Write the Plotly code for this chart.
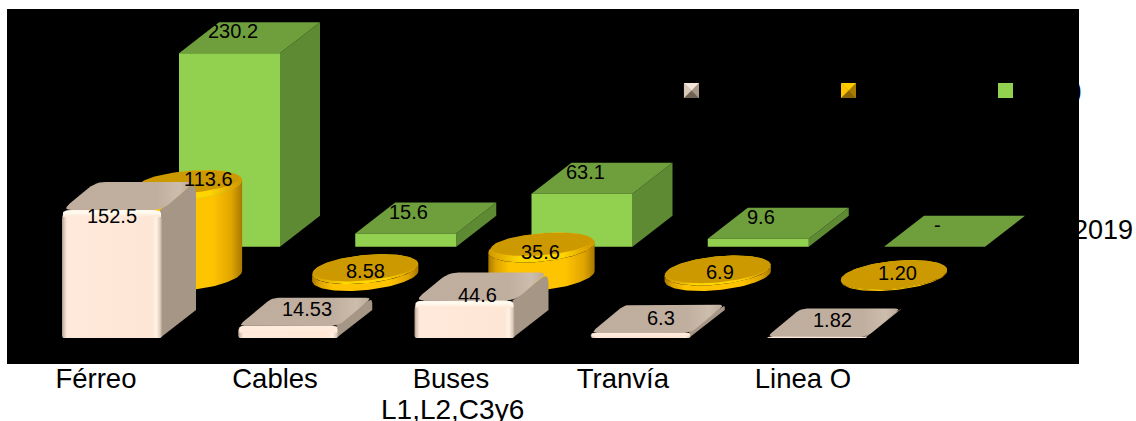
import numpy as np
import plotly.graph_objects as go

categories = ["Férreo", "Cables", "Buses", "Tranvía", "Linea O"]
beige_values = [152.5, 14.53, 44.6, 6.3, 1.82]
gold_values = [113.6, 8.58, 35.6, 6.9, 1.20]
green_values = [230.2, 15.6, 63.1, 9.6, 0]
beige_labels = ["152.5", "14.53", "44.6", "6.3", "1.82"]
gold_labels = ["113.6", "8.58", "35.6", "6.9", "1.20"]
green_labels = ["230.2", "15.6", "63.1", "9.6", "-"]

# scale of the axes (pixels per unit)
PX_CAT, PX_VAL = 176.25, 0.84
L, R, T, B = 7, 1079, 9, 364      # plot rectangle in the page
W0, BASE0 = 112, 338              # where category 0 / value 0 sit

# row geometry, in pixels relative to the front row
GREEN_DX, GREEN_BASE = 117.5, 91.3
GOLD_DX, GOLD_BASE = 77, 62
WIDTH = 101
GOLD_SCALE = 0.8 / PX_VAL

# label nudges (pixels)
beige_shift = [(0, 6), (19, -17), (13, -5.5), (20, -15), (15, -16.5)]
gold_shift = [(19, -6), (0, 2), (-1, 4.5), (2, 2), (3, -2)]
green_shift = [(3, -22)] * 5
tick_nudge = [-0.091, -0.075, -0.077, -0.101, -0.08]

fig = go.Figure()


def cx(px):
    return px / PX_CAT


def vy(px):
    return px / PX_VAL


def poly(xs, ys, color=None, grad=None, gtype="horizontal"):
    kw = dict(x=list(xs), y=list(ys), mode="lines", fill="toself",
              line=dict(width=0), hoverinfo="skip", showlegend=False)
    if grad:
        kw["fillgradient"] = dict(type=gtype, colorscale=grad)
        kw["fillcolor"] = None
    else:
        kw["fillcolor"] = color
    fig.add_trace(go.Scatter(**kw))


def rounded(pts, radii):
    """Replace polygon corners by small quadratic arcs (radii in pixels)."""
    P = [np.array([x * PX_CAT, y * PX_VAL]) for x, y in pts]
    out = []
    n = len(P)
    for k in range(n):
        p, a, b = P[k], P[k - 1], P[(k + 1) % n]
        r = radii[k]
        if r <= 0:
            out.append(p)
            continue
        la, lb = np.linalg.norm(a - p), np.linalg.norm(b - p)
        ra = min(r, la * 0.45)
        rb = min(r, lb * 0.45)
        s, e = p + (a - p) / max(la, 1e-6) * ra, p + (b - p) / max(lb, 1e-6) * rb
        for t in np.linspace(0, 1, 7):
            out.append((1 - t) ** 2 * s + 2 * t * (1 - t) * p + t ** 2 * e)
    return [q[0] / PX_CAT for q in out], [q[1] / PX_VAL for q in out]


def green_box(i, v):
    x0 = i + cx(GREEN_DX) - cx(WIDTH / 2)
    w, dx, dy = cx(WIDTH), cx(40), vy(31)
    b = vy(GREEN_BASE)
    t = b + v
    poly([x0 + w, x0 + w + dx, x0 + w + dx, x0 + w], [b, b + dy, t + dy, t], "#5F8A34")
    poly([x0, x0 + w, x0 + w + dx, x0 + dx], [t, t, t + dy, t + dy], "#6F9E3D")
    if v > 0:
        poly([x0, x0 + w, x0 + w, x0], [b, b, t, t], "#92D050")


def gold_cyl(i, v):
    c = i + cx(GOLD_DX)
    b = vy(GOLD_BASE)
    h = v * GOLD_SCALE
    tr = np.arctan2(18, 50)

    def ell(ts, y0, sx=1.0, sy=1.0):
        return (c + cx(sx * (50 * np.cos(ts) + 18 * np.sin(ts))),
                y0 + vy((1 - sy) * 15) + vy(sy * 15) * np.sin(ts))

    arc = np.linspace(tr, tr - np.pi, 60)
    bx, by = ell(arc, b)
    tx, ty = ell(arc[::-1], b + h)
    side = [[0, "#A87800"], [0.07, "#DDA400"], [0.2, "#FFC400"], [0.72, "#FFC400"],
            [0.9, "#E0A500"], [1, "#A87800"]]
    poly(np.r_[bx, tx], np.r_[by, ty], grad=side)
    full = np.linspace(0, 2 * np.pi, 120)
    t_px = min(6.5, h * PX_VAL * 0.4)
    rx, ry = ell(full, b + h)
    rim = [[0, "#CC9900"], [0.08, "#E0A800"], [0.3, "#FFD800"], [0.7, "#FFD400"],
           [0.92, "#DDA400"], [1, "#CC9900"]]
    poly(rx, ry, grad=rim)
    ix, iy = ell(full, b + h, 1 - t_px / 120, 1 - t_px / 30)
    poly(ix, iy, "#CC9900")


def beige_box(i, v):
    x0 = i - cx(WIDTH / 2) + cx(0.5)
    w, dx, dy = cx(100), cx(34), vy(28)
    h_px = v * PX_VAL
    t = v
    r = 10.0 if h_px > 25 else 6.0
    # side
    sx, sy = rounded([(x0 + w - cx(2), 0), (x0 + w + dx, dy), (x0 + w + dx, t + dy), (x0 + w - cx(2), t)],
                     [0, 0, r, 0])
    poly(sx, sy, "#A69686")
    # top
    tx, ty = rounded([(x0, t), (x0 + w, t), (x0 + w + dx, t + dy), (x0 + dx, t + dy)],
                     [r, r, r, r])
    top = [[0, "#BFAD9D"], [0.72, "#C0AE9E"], [0.9, "#CDBDAD"], [1, "#BBAA9A"]]
    poly(tx, ty, grad=top)
    # front
    if h_px >= 1:
        fx, fy = rounded([(x0, 0), (x0 + w, 0), (x0 + w, t), (x0, t)], [2, 2, r, r])
        front = [[0, "#A89888"], [0.02, "#D9C6B6"], [0.05, "#FFE9DA"], [0.9, "#FEE6D5"],
                 [0.945, "#FFF2E4"], [0.98, "#E0CDBD"], [1, "#B0A090"]]
        poly(fx, fy, grad=front)
        # top bevel of the front face
        band = min(7.0, h_px * 0.7)
        c_top = "#FFF9EE" if h_px > 25 else "#FFEBDC"
        bx, by = rounded([(x0 + cx(1), t - vy(band)), (x0 + w - cx(1), t - vy(band)),
                          (x0 + w - cx(1), t), (x0 + cx(1), t)], [0, 0, r, r])
        poly(bx, by, grad=[[0, "#FEE6D5"], [0.55, c_top], [1, c_top]], gtype="vertical")


for i, v in enumerate(green_values):
    green_box(i, v)
for i, v in enumerate(gold_values):
    gold_cyl(i, v)
for i, v in enumerate(beige_values):
    beige_box(i, v)


def label(x, y, text, shift):
    fig.add_annotation(x=x, y=y, text=text, showarrow=False, xref="x", yref="y",
                       xanchor="center", yanchor="middle",
                       xshift=shift[0], yshift=-shift[1],
                       font=dict(family="Liberation Sans", size=20, color="#000000"))


for i in range(5):
    label(i + cx(GREEN_DX), vy(GREEN_BASE) + green_values[i], green_labels[i], green_shift[i])
    label(i + cx(GOLD_DX), vy(GOLD_BASE) + gold_values[i] * GOLD_SCALE, gold_labels[i], gold_shift[i])
    label(i, beige_values[i], beige_labels[i], beige_shift[i])


def px_x(p):
    return (p - L) / (R - L)


def px_y(p):
    return 1 - (p - T) / (B - T)


# Legend swatches (their text is black on the black panel in the reference)
def swatch(x, colors):
    y, s = 83, 15
    c = (x + s / 2, y + s / 2)
    corners = [(x, y), (x + s, y), (x + s, y + s), (x, y + s)]
    fig.add_shape(type="rect", x0=px_x(x), x1=px_x(x + s), y0=px_y(y + s), y1=px_y(y),
                  xref="paper", yref="paper", fillcolor=colors[1], line=dict(width=0), layer="above")
    for k, col in enumerate(colors):
        if col == colors[1]:
            continue
        a, b = corners[k], corners[(k + 1) % 4]
        path = "M {:.4f} {:.4f} L {:.4f} {:.4f} L {:.4f} {:.4f} Z".format(
            px_x(a[0]), px_y(a[1]), px_x(b[0]), px_y(b[1]), px_x(c[0]), px_y(c[1]))
        fig.add_shape(type="path", path=path, xref="paper", yref="paper",
                      fillcolor=col, line=dict(width=0), layer="above")


swatch(684, ["#F4E6D8", "#A89888", "#6F6356", "#D8C8B8"])
swatch(841, ["#FFCC00", "#A87C00", "#8A6600", "#FFC400"])
swatch(998, ["#92D050"] * 4)

# Texts that run past the panel
fig.add_annotation(xref="paper", yref="paper", x=px_x(1135), y=px_y(230), text="2019",
                   showarrow=False, xanchor="right", yanchor="middle",
                   font=dict(family="Liberation Sans", size=27, color="#000000"))
fig.add_annotation(xref="paper", yref="paper", x=px_x(1084), y=px_y(90), text=")",
                   showarrow=False, xanchor="right", yanchor="middle",
                   font=dict(family="Liberation Sans", size=27, color="#000000"))
# second line of the "Buses" category label
fig.add_annotation(xref="x", yref="paper", x=2 - 0.07, y=px_y(409), text="L1,L2,C3y6",
                   showarrow=False, xanchor="center", yanchor="middle",
                   font=dict(family="Liberation Sans", size=28, color="#000000"))

fig.update_layout(
    width=1136, height=421, autosize=False,
    margin=dict(l=L, r=1136 - R, t=T, b=421 - B, pad=0),
    paper_bgcolor="#FFFFFF", plot_bgcolor="#000000", showlegend=False,
    xaxis=dict(range=[(L - W0) / PX_CAT, (R - W0) / PX_CAT], showgrid=False, zeroline=False,
               showline=False, ticks="", tickmode="array",
               tickvals=[i + n for i, n in enumerate(tick_nudge)], ticktext=categories,
               ticklabelstandoff=-5,
               tickfont=dict(family="Liberation Sans", size=27.5, color="#000000")),
    yaxis=dict(range=[(BASE0 - B) / PX_VAL, (BASE0 - T) / PX_VAL], showgrid=False, zeroline=False,
               showline=False, showticklabels=False, ticks=""),
)
fig.write_html("out.html", config={"displayModeBar": False},
               post_script="document.body.style.margin='0';document.documentElement.style.overflow='hidden';")
